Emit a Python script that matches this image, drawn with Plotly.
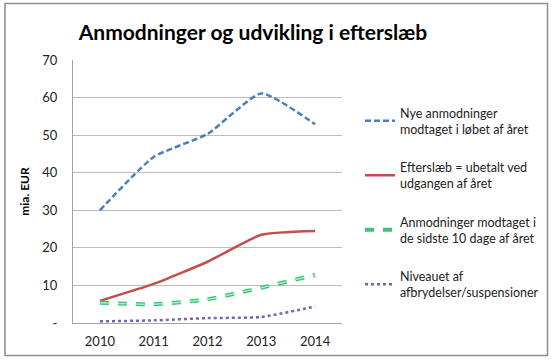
import plotly.graph_objects as go

years = ["2010", "2011", "2012", "2013", "2014"]
nye = [30.0, 44.2, 50.3, 61.1, 52.9]
efterslaeb = [5.9, 10.4, 16.3, 23.5, 24.5]
sidste10 = [5.4, 5.0, 6.3, 9.4, 12.8]
niveau = [0.45, 0.7, 1.3, 1.6, 4.4]

names = [
    "Nye anmodninger<br>modtaget i løbet af året",
    "Efterslæb = ubetalt ved<br>udgangen af året",
    "Anmodninger modtaget i<br>de sidste 10 dage af året",
    "Niveauet af<br>afbrydelser/suspensioner",
]

ytickvals = [0, 10, 20, 30, 40, 50, 60, 70]
yticktext = ["-", "10", "20", "30", "40", "50", "60", "70"]

FONT = "Lato, 'Open Sans', sans-serif"

fig = go.Figure()
fig.add_trace(go.Scatter(x=years, y=nye, mode="lines", name=names[0], legendgroup="a",
                         line=dict(color="#4A7EC4", width=2.5, dash="6px,3px", shape="spline", smoothing=0.5)))
fig.add_trace(go.Scatter(x=years, y=efterslaeb, mode="lines", name=names[1], legendgroup="b",
                         line=dict(color="#C0504D", width=2.5, shape="spline", smoothing=0.5)))
fig.add_trace(go.Scatter(x=years, y=sidste10, mode="lines", name=names[2], legendgroup="c",
                         line=dict(color="#3CC373", width=4, dash="9px,9px", shape="spline", smoothing=0.5)))
fig.add_trace(go.Scatter(x=years, y=sidste10, mode="lines", name=names[2], legendgroup="c", showlegend=False,
                         hoverinfo="skip",
                         line=dict(color="#A0EEC2", width=1.5, dash="9px,9px", shape="spline", smoothing=0.5)))
fig.add_trace(go.Scatter(x=years, y=niveau, mode="lines", name=names[3], legendgroup="d",
                         line=dict(color="#7F5FB0", width=2.5, dash="dot", shape="spline", smoothing=0.5)))

fig.update_layout(
    width=552, height=361,
    margin=dict(l=73, r=210, t=60, b=38),
    paper_bgcolor="white", plot_bgcolor="white",
    font=dict(family=FONT, size=13, color="#222"),
    title=dict(text="<b>Anmodninger og udvikling i efterslæb</b>", x=253 / 552, xanchor="center",
               y=1 - 33 / 361, yanchor="middle", xref="container", yref="container",
               font=dict(family=FONT, size=21, color="black")),
    showlegend=True,
    legend=dict(xref="container", yref="container", x=360 / 552, y=1 - 98 / 361,
                xanchor="left", yanchor="top", font=dict(family=FONT, size=12.5, color="#222"),
                tracegroupgap=19, traceorder="grouped", bgcolor="rgba(0,0,0,0)", itemwidth=30,
                maxheight=250),
    shapes=[dict(type="rect", xref="paper", yref="paper", x0=-68 / 269, x1=(547.5 - 73) / 269,
                 y0=-(355.5 - 323) / 263, y1=1 + (60 - 3.5) / 263,
                 line=dict(color="#8c8c8c", width=1.5), layer="below")],
)
fig.update_xaxes(type="category", range=[-0.5, 4.5], showline=True, linecolor="#a6a6a6", linewidth=1, ticks="",
                 showgrid=False, tickfont=dict(size=13, color="#222"), ticklabelstandoff=6)
fig.update_yaxes(range=[0, 70], tickvals=ytickvals, ticktext=yticktext, showgrid=True, gridcolor="#bcbcbc",
                 gridwidth=1, showline=True, linecolor="#a6a6a6", linewidth=1, zeroline=False,
                 tickfont=dict(size=13, color="#222"), ticklabelstandoff=12,
                 title=dict(text="<b>mia. EUR</b>", font=dict(size=12, color="black"), standoff=10))

fig.write_html("out.html", config={"displayModeBar": False},
               post_script="document.body.style.margin='0';document.body.style.padding='0';")
